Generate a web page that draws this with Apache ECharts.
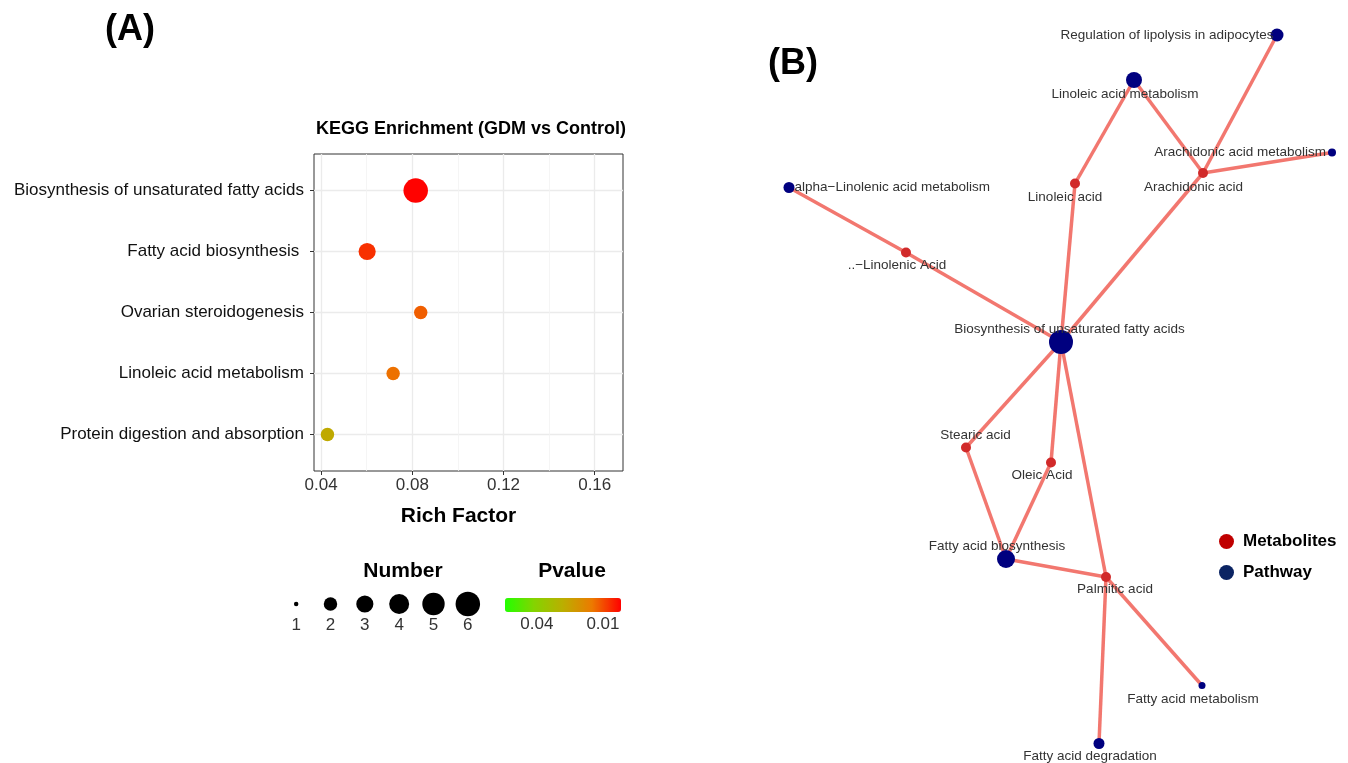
<!DOCTYPE html>
<html>
<head>
<meta charset="utf-8">
<script src="https://cdn.jsdelivr.net/npm/echarts@6/dist/echarts.min.js"></script>
<style>html,body{margin:0;padding:0;background:#fff}#c{width:1348px;height:763px}</style>
</head>
<body>
<div id="c"></div>
<script>
// ---------- Panel A data ----------
const pathways = ['Biosynthesis of unsaturated fatty acids', 'Fatty acid biosynthesis ', 'Ovarian steroidogenesis', 'Linoleic acid metabolism', 'Protein digestion and absorption'];
const richFactor = [0.0815, 0.0602, 0.0837, 0.0716, 0.0428];
const hitNumber = [6, 3, 2, 2, 2];
const pValue = [0.002, 0.007, 0.012, 0.014, 0.027];
const xTicks = [0.04, 0.08, 0.12, 0.16];
const xMinorTicks = [0.06, 0.10, 0.14];
const xRange = [0.0369, 0.1724];
const sizeLegendValues = [1, 2, 3, 4, 5, 6];
const pLegendTicks = [0.04, 0.01];
const pRange = [0.0018, 0.0545];

// ---------- Panel B data (network layout coordinates) ----------
const netNodes = ['Regulation of lipolysis in adipocytes', 'Linoleic acid metabolism', 'Arachidonic acid metabolism', 'Arachidonic acid', 'Linoleic acid', 'alpha\u2212Linolenic acid metabolism', '..\u2212Linolenic Acid', 'Biosynthesis of unsaturated fatty acids', 'Stearic acid', 'Oleic Acid', 'Fatty acid biosynthesis', 'Palmitic acid', 'Fatty acid metabolism', 'Fatty acid degradation'];
const netType = ['Pathway', 'Pathway', 'Pathway', 'Metabolites', 'Metabolites', 'Pathway', 'Metabolites', 'Pathway', 'Metabolites', 'Metabolites', 'Pathway', 'Metabolites', 'Pathway', 'Pathway'];
const netX = [1277, 1134, 1332, 1203, 1075, 789, 906, 1061, 966, 1051, 1006, 1106, 1202, 1099];
const netY = [35, 80, 152.5, 173, 183.5, 187.5, 252.5, 342, 447.5, 462.5, 559, 577, 685.5, 743.5];
const netLinks = [
  ['alpha\u2212Linolenic acid metabolism', '..\u2212Linolenic Acid'],
  ['..\u2212Linolenic Acid', 'Biosynthesis of unsaturated fatty acids'],
  ['Linoleic acid', 'Biosynthesis of unsaturated fatty acids'],
  ['Linoleic acid', 'Linoleic acid metabolism'],
  ['Linoleic acid metabolism', 'Arachidonic acid'],
  ['Arachidonic acid', 'Regulation of lipolysis in adipocytes'],
  ['Arachidonic acid', 'Arachidonic acid metabolism'],
  ['Arachidonic acid', 'Biosynthesis of unsaturated fatty acids'],
  ['Biosynthesis of unsaturated fatty acids', 'Stearic acid'],
  ['Biosynthesis of unsaturated fatty acids', 'Oleic Acid'],
  ['Biosynthesis of unsaturated fatty acids', 'Palmitic acid'],
  ['Stearic acid', 'Fatty acid biosynthesis'],
  ['Oleic Acid', 'Fatty acid biosynthesis'],
  ['Fatty acid biosynthesis', 'Palmitic acid'],
  ['Palmitic acid', 'Fatty acid metabolism'],
  ['Palmitic acid', 'Fatty acid degradation']
];
const netCategories = ['Metabolites', 'Pathway'];

// ---------- styles ----------
const FONT = 'Liberation Sans, Arial, Helvetica, sans-serif';
const catColor = { Metabolites: '#D12A2A', Pathway: '#00007F' };
const legendColor = { Metabolites: '#C00000', Pathway: '#0B2463' };
const nodeSize = {
  'Regulation of lipolysis in adipocytes': 13, 'Linoleic acid metabolism': 16, 'Arachidonic acid metabolism': 8,
  'Arachidonic acid': 10, 'Linoleic acid': 10, 'alpha\u2212Linolenic acid metabolism': 11, '..\u2212Linolenic Acid': 10,
  'Biosynthesis of unsaturated fatty acids': 24, 'Stearic acid': 10, 'Oleic Acid': 10, 'Fatty acid biosynthesis': 18,
  'Palmitic acid': 10, 'Fatty acid metabolism': 7, 'Fatty acid degradation': 11
};
const labelStyle = {
  'Regulation of lipolysis in adipocytes': { position: 'left', distance: -3 },
  'Linoleic acid metabolism': { position: 'inside', offset: [-9, 14] },
  'Arachidonic acid metabolism': { position: 'left', distance: 2 },
  'Arachidonic acid': { position: 'inside', offset: [-9.5, 14] },
  'Linoleic acid': { position: 'inside', offset: [-10, 13.5] },
  'alpha\u2212Linolenic acid metabolism': { position: 'right', distance: 0 },
  '..\u2212Linolenic Acid': { position: 'inside', offset: [-9, 13] },
  'Biosynthesis of unsaturated fatty acids': { position: 'inside', offset: [8.5, -13] },
  'Stearic acid': { position: 'inside', offset: [9.5, -12] },
  'Oleic Acid': { position: 'inside', offset: [-9, 13] },
  'Fatty acid biosynthesis': { position: 'inside', offset: [-9, -12.5] },
  'Palmitic acid': { position: 'inside', offset: [9, 12] },
  'Fatty acid metabolism': { position: 'inside', offset: [-9, 13.5] },
  'Fatty acid degradation': { position: 'inside', offset: [-9, 13] }
};

// ggplot-like area scale: size = 1 + 5*sqrt(rescaled), diameter ~ 4px per size unit
function sizeScale(n) {
  const s = 1 + 5 * Math.sqrt((n - 1) / 5);
  return 4 * s + 0.5;
}

const vmLeft = 505, vmTop = 598, vmLen = 116, vmThick = 14;
function pToX(p) { return vmLeft + (pRange[1] - p) / (pRange[1] - pRange[0]) * vmLen; }

const chart = echarts.init(document.getElementById('c'), null, { renderer: 'canvas' });

const graphics = [];
pLegendTicks.forEach(function (p) {
  const x = pToX(p);
  graphics.push({ type: 'text', x: x, y: 624, style: { text: p.toFixed(2), font: '17px ' + FONT, fill: '#333', align: 'center', verticalAlign: 'middle' } });
  graphics.push({ type: 'line', shape: { x1: x, y1: vmTop, x2: x, y2: vmTop + 3 }, style: { stroke: '#fff', lineWidth: 1 } });
  graphics.push({ type: 'line', shape: { x1: x, y1: vmTop + vmThick - 3, x2: x, y2: vmTop + vmThick }, style: { stroke: '#fff', lineWidth: 1 } });
});

const option = {
  backgroundColor: '#fff',
  animation: false,
  title: [
    { text: '(A)', left: 100, top: 7, textStyle: { fontFamily: FONT, fontWeight: 'bold', fontSize: 36, color: '#000' } },
    { text: '(B)', left: 763, top: 41, textStyle: { fontFamily: FONT, fontWeight: 'bold', fontSize: 36, color: '#000' } },
    { text: 'KEGG Enrichment (GDM vs Control)', left: 466, top: 115, textAlign: 'center', textStyle: { fontFamily: FONT, fontWeight: 'bold', fontSize: 18, color: '#000' } },
    { text: 'Number', left: 398, top: 556, textAlign: 'center', textStyle: { fontFamily: FONT, fontWeight: 'bold', fontSize: 21, color: '#000' } },
    { text: 'Pvalue', left: 567, top: 556, textAlign: 'center', textStyle: { fontFamily: FONT, fontWeight: 'bold', fontSize: 21, color: '#000' } }
  ],
  grid: [
    { left: 314, top: 154, width: 309, height: 317, show: true, borderColor: '#333', borderWidth: 1, backgroundColor: '#fff' },
    { left: 279, top: 594, width: 206, height: 20 },
    { left: 760, top: 0, width: 588, height: 763 }
  ],
  xAxis: [
    {
      gridIndex: 0, type: 'value', min: xRange[0], max: xRange[1], position: 'bottom',
      axisLine: { show: false, onZero: false },
      axisTick: { show: true, customValues: xTicks, length: 4, lineStyle: { color: '#333' } },
      axisLabel: { customValues: xTicks, formatter: v => v.toFixed(2), fontFamily: FONT, fontSize: 17, color: '#333', margin: 6 },
      splitLine: { show: true, lineStyle: { color: '#EBEBEB', width: 1.3 } },
      name: 'Rich Factor', nameLocation: 'middle', nameGap: 35,
      nameTextStyle: { fontFamily: FONT, fontWeight: 'bold', fontSize: 21, color: '#000', padding: [0, 20, 0, 0] }
    },
    {
      gridIndex: 0, type: 'value', min: xRange[0], max: xRange[1], position: 'bottom',
      axisLine: { show: false, onZero: false }, axisLabel: { show: false },
      axisTick: { show: false, customValues: xMinorTicks },
      splitLine: { show: true, lineStyle: { color: '#F3F3F3', width: 0.8 } }
    },
    {
      gridIndex: 1, type: 'category', data: sizeLegendValues.map(String),
      axisLine: { show: false, onZero: false }, axisTick: { show: false },
      axisLabel: { fontFamily: FONT, fontSize: 17, color: '#333', margin: 3 },
      splitLine: { show: false }
    },
    { gridIndex: 2, type: 'value', min: 760, max: 1348, show: false }
  ],
  yAxis: [
    {
      gridIndex: 0, type: 'value', min: -0.6, max: 4.6, inverse: true,
      axisLine: { show: false, onZero: false },
      axisTick: { show: true, customValues: [0, 1, 2, 3, 4], length: 4, lineStyle: { color: '#333' } },
      axisLabel: { customValues: [0, 1, 2, 3, 4], formatter: v => pathways[Math.round(v)], fontFamily: FONT, fontSize: 17, color: '#111', margin: 10 },
      splitLine: { show: true, lineStyle: { color: '#EBEBEB', width: 1.3 } }
    },
    { gridIndex: 1, type: 'value', min: -1, max: 1, show: false },
    { gridIndex: 2, type: 'value', min: 0, max: 763, inverse: true, show: false }
  ],
  visualMap: [{
    type: 'continuous', seriesIndex: 0, dimension: 3,
    min: pRange[0], max: pRange[1], orient: 'horizontal', inverse: true,
    left: vmLeft, top: vmTop, itemWidth: vmThick, itemHeight: vmLen, padding: 0,
    calculable: false, hoverLink: false, text: null, showLabel: false,
    inRange: { color: ['#FF0000', '#EC7A00', '#BBAE00', '#84D400', '#22FF00'] }
  }],
  legend: {
    orient: 'vertical', left: 1214, top: 528, itemWidth: 15, itemHeight: 15, itemGap: 14, icon: 'circle',
    data: netCategories.map(c => ({ name: c, itemStyle: { color: legendColor[c] } })),
    textStyle: { fontFamily: FONT, fontWeight: 'bold', fontSize: 17, color: '#000', padding: [0, 0, 0, 4] },
    selectedMode: false
  },
  graphic: graphics,
  series: [
    {
      type: 'scatter', xAxisIndex: 0, yAxisIndex: 0,
      data: pathways.map((p, i) => [richFactor[i], i, hitNumber[i], pValue[i]]),
      symbolSize: v => sizeScale(v[2]),
      itemStyle: { opacity: 1 }
    },
    {
      type: 'scatter', xAxisIndex: 2, yAxisIndex: 1,
      data: sizeLegendValues.map(n => [String(n), 0, n]),
      symbolSize: v => sizeScale(v[2]),
      itemStyle: { color: '#000', opacity: 1 }
    },
    {
      type: 'graph', coordinateSystem: 'cartesian2d', xAxisIndex: 3, yAxisIndex: 2,
      categories: netCategories.map(c => ({ name: c, itemStyle: { color: catColor[c] } })),
      data: netNodes.map((n, i) => ({
        name: n, value: [netX[i], netY[i]], category: netCategories.indexOf(netType[i]),
        symbolSize: nodeSize[n],
        label: Object.assign({ show: true }, labelStyle[n])
      })),
      links: netLinks.map(l => ({ source: l[0], target: l[1] })),
      label: { fontFamily: FONT, fontSize: 13.5, color: '#333' },
      lineStyle: { color: '#F2776F', width: 3.5, opacity: 1, curveness: 0 },
      emphasis: { disabled: true }
    }
  ]
};
chart.setOption(option);
</script>
</body>
</html>
